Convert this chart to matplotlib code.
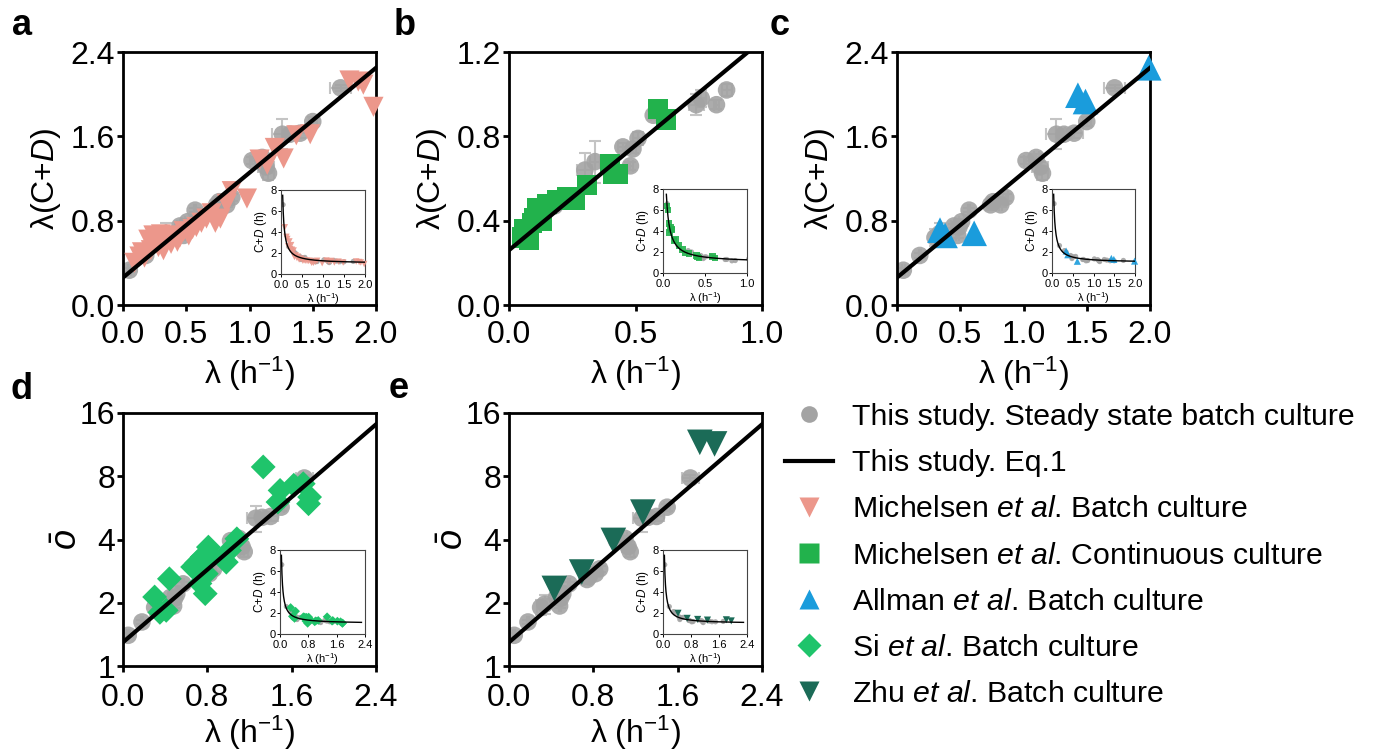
import numpy as np
import matplotlib
matplotlib.use("Agg")
import matplotlib.pyplot as plt
from matplotlib.lines import Line2D
from matplotlib.ticker import FormatStrFormatter, NullLocator

plt.rcParams['font.family'] = ['Liberation Sans', 'DejaVu Sans']
plt.rcParams['mathtext.fontset'] = 'custom'
plt.rcParams['mathtext.rm'] = 'Liberation Sans'
plt.rcParams['mathtext.it'] = 'Liberation Sans:italic'
plt.rcParams['mathtext.bf'] = 'Liberation Sans:bold'
plt.rcParams['axes.unicode_minus'] = True

# ---------------- data ----------------
# fitted model (Eq.1): lambda*(C+D) = fit_a + fit_b * lambda
fit_a = 0.26
fit_b = 0.995

# This study (grey): growth rate, lambda(C+D), o-bar, error bars
gray_lam = [0.05, 0.18, 0.30, 0.34, 0.45, 0.48, 0.49, 0.51, 0.57, 0.74, 0.76, 0.82,
            0.86, 1.02, 1.10, 1.13, 1.15, 1.26, 1.32, 1.40, 1.50, 1.72]
gray_lcd = [0.33, 0.47, 0.64, 0.68, 0.75, 0.66, 0.74, 0.79, 0.90, 0.95, 0.98, 0.95,
            1.02, 1.37, 1.40, 1.31, 1.25, 1.62, 1.62, 1.63, 1.74, 2.06]
gray_obar = [1.40, 1.62, 1.90, 1.97, 2.12, 1.93, 2.10, 2.20, 2.46, 2.58, 2.66, 2.75,
             2.90, 3.95, 4.05, 3.70, 3.50, 5.05, 5.10, 5.15, 5.70, 7.85]
gray_yerr = [0.02, 0.02, 0.08, 0.10, 0.02, 0.02, 0.02, 0.03, 0.02, 0.05, 0.04, 0.02,
             0.03, 0.03, 0.03, 0.05, 0.06, 0.14, 0.05, 0.05, 0.04, 0.03]
gray_xerr = [0.01, 0.01, 0.03, 0.02, 0.02, 0.01, 0.01, 0.02, 0.01, 0.03, 0.02, 0.01,
             0.02, 0.02, 0.02, 0.06, 0.04, 0.08, 0.06, 0.07, 0.03, 0.08]

# Michelsen et al. batch culture
mb_lam = [0.09, 0.13, 0.15, 0.17, 0.20, 0.22, 0.24, 0.26, 0.28, 0.30, 0.32, 0.35,
          0.38, 0.40, 0.43, 0.45, 0.48, 0.52, 0.55, 0.58, 0.62, 0.66, 0.70, 0.73,
          0.77, 0.82, 0.86, 0.98, 1.08, 1.14, 1.20, 1.27, 1.37, 1.48, 1.79, 1.86,
          1.90, 1.98]
mb_lcd = [0.40, 0.46, 0.50, 0.45, 0.62, 0.52, 0.66, 0.60, 0.55, 0.67, 0.52, 0.62,
          0.58, 0.66, 0.60, 0.64, 0.70, 0.66, 0.72, 0.74, 0.78, 0.82, 0.87, 0.78,
          0.82, 0.96, 1.08, 1.01, 1.38, 1.33, 1.49, 1.39, 1.61, 1.62, 2.13, 2.12,
          2.09, 1.88]

# Michelsen et al. continuous culture
mc_lam = [0.05, 0.06, 0.07, 0.08, 0.09, 0.10, 0.11, 0.13, 0.15, 0.19, 0.23, 0.26,
          0.31, 0.40, 0.41, 0.43, 0.59, 0.62]
mc_lcd = [0.32, 0.36, 0.33, 0.31, 0.39, 0.41, 0.46, 0.40, 0.48, 0.50, 0.51, 0.50,
          0.57, 0.67, 0.62, 0.62, 0.93, 0.88]

# Allman et al. batch culture
al_lam = [0.34, 0.38, 0.61, 1.43, 1.49, 1.99]
al_lcd = [0.71, 0.66, 0.68, 1.99, 1.93, 2.25]

# Si et al. batch culture (o-bar)
si_lam = [0.30, 0.35, 0.41, 0.44, 0.66, 0.70, 0.73, 0.75, 0.78, 0.79, 0.81, 0.83,
          0.98, 1.01, 1.08, 1.33, 1.47, 1.49, 1.62, 1.71, 1.76, 1.77]
si_obar = [2.13, 1.80, 1.84, 2.60, 2.96, 3.10, 2.47, 3.30, 2.21, 2.75, 3.68, 3.40,
           3.12, 3.55, 4.03, 8.86, 6.03, 6.85, 7.25, 7.37, 5.92, 6.37]

# Zhu et al. batch culture (o-bar)
zhu_lam = [0.43, 0.69, 0.99, 1.27, 1.81, 1.95]
zhu_obar = [2.34, 2.80, 3.96, 5.40, 11.6, 11.4]

labels = ["This study. Steady state batch culture",
          "This study. Eq.1",
          r"Michelsen $\mathit{et\ al}$. Batch culture",
          r"Michelsen $\mathit{et\ al}$. Continuous culture",
          r"Allman $\mathit{et\ al}$. Batch culture",
          r"Si $\mathit{et\ al}$. Batch culture",
          r"Zhu $\mathit{et\ al}$. Batch culture"]

# ---------------- styling ----------------
GRAY = '#a3a3a3'
ERRC = '#c4c4c4'
PINK = '#ec978b'
GREEN = '#22b24c'
BLUE = '#1a9cdc'
DGREEN = '#1fc46b'
TEAL = '#1b6b57'

W, H = 1373, 755
fig = plt.figure(figsize=(W / 100, H / 100), dpi=100)


def rect(l, t, r, b):
    return [l / W, 1 - b / H, (r - l) / W, (b - t) / H]


TICKFS = 23
LABFS = 23


def style_main(ax):
    for s in ax.spines.values():
        s.set_linewidth(2.0)
    ax.tick_params(axis='both', direction='out', length=4, width=2.0, labelsize=TICKFS)
    ax.tick_params(axis='x', pad=7)
    ax.tick_params(axis='y', pad=1.5)


def style_inset(ax, xmax, xticks):
    for s in ax.spines.values():
        s.set_linewidth(0.8)
        s.set_color('#444444')
    ax.set_xlim(0, xmax)
    ax.set_ylim(0, 8)
    ax.set_xticks(xticks)
    ax.set_yticks([0, 2, 4, 6, 8])
    ax.tick_params(direction='out', length=2, width=0.7, labelsize=8, pad=1)
    ax.tick_params(axis='x', pad=2)
    ax.set_xlabel(r"λ (h$^{-1}$)", fontsize=8, labelpad=1)
    ax.set_ylabel(r"C+$\mathit{D}$ (h)", fontsize=8.5, labelpad=1)


def gray_main(ax, y, yerr):
    ax.errorbar(gray_lam, y, yerr=yerr, xerr=gray_xerr, fmt='none', ecolor=ERRC,
                elinewidth=1.5, capsize=4, capthick=1.5, zorder=1)
    ax.scatter(gray_lam, y, s=160, color=GRAY, alpha=0.9, edgecolors='none', zorder=2)


def gray_inset(ax):
    g = np.array(gray_lcd) / np.array(gray_lam)
    ax.scatter(gray_lam, g, s=14, color=GRAY, alpha=0.9, edgecolors='none', zorder=2)


def fit_inset(ax, xmax):
    xs = np.linspace(0.04, xmax, 300)
    ax.plot(xs, (fit_a + fit_b * xs) / xs, color='black', lw=1.0, zorder=4)


xs_line = np.linspace(0, 2.4, 200)


def lcd_panel(box, inset_box, xmax, xticks, ymax, yticks, lam, lcd, marker, s, color,
              s_in):
    ax = fig.add_axes(rect(*box))
    gray_main(ax, gray_lcd, gray_yerr)
    ax.scatter(lam, lcd, marker=marker, s=s, color=color, edgecolors='none', zorder=3,
               clip_on=False)
    ax.plot(xs_line, fit_a + fit_b * xs_line, color='black', lw=3, zorder=5)
    ax.set_xlim(0, xmax); ax.set_ylim(0, ymax)
    ax.set_xticks(xticks); ax.set_yticks(yticks)
    ax.xaxis.set_major_formatter(FormatStrFormatter('%.1f'))
    ax.yaxis.set_major_formatter(FormatStrFormatter('%.1f'))
    style_main(ax)
    ax.set_xlabel(r"λ (h$^{-1}$)", fontsize=LABFS, labelpad=3)
    ax.set_ylabel(r"λ(C+$\mathit{D}$)", fontsize=LABFS, labelpad=6)
    ins = fig.add_axes(rect(*inset_box))
    gray_inset(ins)
    ins.scatter(lam, np.array(lcd) / np.array(lam), marker=marker, s=s_in, color=color,
                alpha=0.9, edgecolors='none', zorder=3, clip_on=False)
    fit_inset(ins, xmax)
    style_inset(ins, xmax, xticks)
    ins.xaxis.set_major_formatter(FormatStrFormatter('%.1f'))
    return ax


ax_a = lcd_panel((123, 52, 376, 305), (281, 190, 365, 274), 2.0, [0, 0.5, 1.0, 1.5, 2.0],
                 2.4, [0, 0.8, 1.6, 2.4], mb_lam, mb_lcd, 'v', 210, PINK, 22)
ax_b = lcd_panel((509, 52, 762, 305), (663, 189, 747, 273), 1.0, [0, 0.5, 1.0],
                 1.2, [0, 0.4, 0.8, 1.2], mc_lam, mc_lcd, 's', 210, GREEN, 22)
ax_c = lcd_panel((897, 52, 1150, 305), (1052, 189, 1135, 273), 2.0, [0, 0.5, 1.0, 1.5, 2.0],
                 2.4, [0, 0.8, 1.6, 2.4], al_lam, al_lcd, '^', 340, BLUE, 26)


def obar_panel(l, r, inset_box, lam, obar, marker, s, color, s_in):
    ax = fig.add_axes(rect(l, 413, r, 666))
    ax.set_yscale('log', base=2)
    gyerr = np.array(gray_obar) * np.array(gray_yerr)
    gray_main(ax, gray_obar, gyerr)
    ax.scatter(lam, obar, marker=marker, s=s, color=color, edgecolors='none', zorder=3)
    ax.plot(xs_line, np.exp(fit_a + fit_b * xs_line), color='black', lw=3, zorder=5)
    ax.set_xlim(0, 2.4); ax.set_ylim(1, 16)
    ax.set_xticks([0, 0.8, 1.6, 2.4]); ax.set_yticks([1, 2, 4, 8, 16])
    ax.set_yticklabels(['1', '2', '4', '8', '16'])
    ax.yaxis.set_minor_locator(NullLocator())
    ax.xaxis.set_major_formatter(FormatStrFormatter('%.1f'))
    style_main(ax)
    ax.tick_params(axis='x', pad=8)
    ax.set_xlabel(r"λ (h$^{-1}$)", fontsize=LABFS, labelpad=1)
    ax.set_ylabel(r"$\bar{\mathit{o}}$", fontsize=LABFS + 3, labelpad=-4)
    ins = fig.add_axes(rect(*inset_box))
    gray_inset(ins)
    ins.scatter(lam, np.log(obar) / np.array(lam), marker=marker, s=s_in, color=color,
                edgecolors='none', zorder=3)
    fit_inset(ins, 2.3)
    style_inset(ins, 2.4, [0, 0.8, 1.6, 2.4])
    ins.xaxis.set_major_formatter(FormatStrFormatter('%.1f'))
    return ax


ax_d = obar_panel(123, 376, (280, 550, 365, 634), si_lam, si_obar, 'D', 160, DGREEN, 20)
ax_e = obar_panel(509, 762, (663, 550, 747, 634), zhu_lam, zhu_obar, 'v', 340, TEAL, 26)

# ---------------- panel letters ----------------
for letter, x, y in [('a', 12, 35), ('b', 394, 35), ('c', 770, 35),
                     ('d', 10, 399), ('e', 389, 398)]:
    fig.text(x / W, 1 - y / H, letter, fontsize=26, fontweight='bold', ha='left',
             va='baseline')

# ---------------- legend ----------------
handles = [
    Line2D([], [], ls='none', marker='o', ms=12, color=GRAY, mec='none'),
    Line2D([], [], color='black', lw=3),
    Line2D([], [], ls='none', marker='v', ms=15, color=PINK, mec='none'),
    Line2D([], [], ls='none', marker='s', ms=14, color=GREEN, mec='none'),
    Line2D([], [], ls='none', marker='^', ms=15, color=BLUE, mec='none'),
    Line2D([], [], ls='none', marker='D', ms=12, color=DGREEN, mec='none'),
    Line2D([], [], ls='none', marker='v', ms=15, color=TEAL, mec='none'),
]
fig.legend(handles, labels, loc='upper left', bbox_to_anchor=(785 / W, 1 - 403 / H),
           frameon=False, fontsize=21.8, labelspacing=0.6, handlelength=1.6,
           handletextpad=0.6, borderpad=0, borderaxespad=0)

fig.savefig('out.png', dpi=100)
